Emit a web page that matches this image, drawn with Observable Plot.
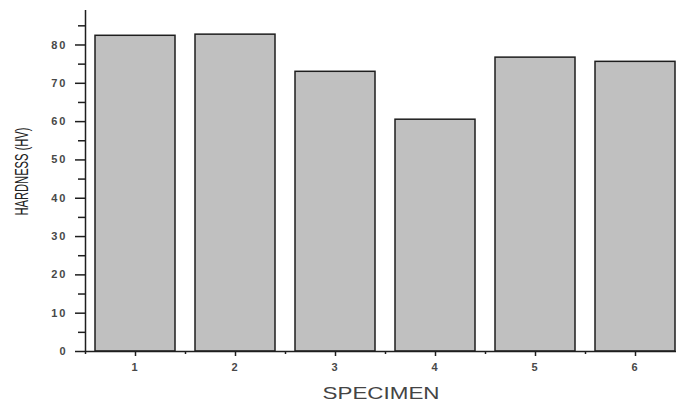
<!DOCTYPE html>
<html>
<head>
<meta charset="utf-8">
<script src="https://cdn.jsdelivr.net/npm/d3@7"></script>
<script src="https://cdn.jsdelivr.net/npm/@observablehq/plot@0.6"></script>
<style>
  html, body { margin: 0; padding: 0; background: #fff; overflow: hidden; }
  #chart svg { overflow: visible; }
</style>
</head>
<body>
<div id="chart"></div>
<script>
const specimens = [1, 2, 3, 4, 5, 6];
const hardness = [82.4, 82.7, 73.0, 60.5, 76.7, 75.6];
const yTicks = [0, 10, 20, 30, 40, 50, 60, 70, 80];
const yMinorTicks = [5, 15, 25, 35, 45, 55, 65, 75, 85];
const xMinorTicks = [0.5, 1.5, 2.5, 3.5, 4.5, 5.5, 6.5];
const xDomain = [0.5, 6.5];
const yDomain = [0, 89];
const xTitle = "SPECIMEN";
const yTitle = "HARDNESS (HV)";

const data = specimens.map((s, i) => ({specimen: s, hardness: hardness[i]}));

const tickFont = {fontSize: 11, fontWeight: "bold", fill: "#484848"};

const chart = Plot.plot({
  width: 676,
  height: 405,
  marginTop: 10,
  marginBottom: 54,
  marginLeft: 85,
  marginRight: 0,
  style: {fontFamily: "'Liberation Sans', Arial, sans-serif", background: "#fff"},
  x: {domain: xDomain, range: [85, 685]},
  y: {domain: yDomain},
  marks: [
    Plot.rectY(data, {
      x1: d => d.specimen - 0.4,
      x2: d => d.specimen + 0.4,
      y: "hardness",
      fill: "#c0c0c0",
      stroke: "#1e1e1e",
      strokeWidth: 1.5
    }),
    Plot.ruleY([yDomain[0]], {stroke: "#1e1e1e", strokeWidth: 1.5}),
    Plot.ruleX([xDomain[0]], {y1: yDomain[0], y2: yDomain[1], stroke: "#1e1e1e", strokeWidth: 1.5}),
    Plot.axisY({ticks: yTicks, tickSize: 10, tickPadding: 8, tickFormat: d3.format("d"), label: null, stroke: "#1e1e1e", strokeWidth: 1.5, ...tickFont}),
    Plot.axisY({ticks: yMinorTicks, tickSize: 7, tickFormat: () => "", label: null, stroke: "#1e1e1e", strokeWidth: 1.5}),
    Plot.axisX({ticks: specimens, tickSize: 5, tickPadding: 7, tickFormat: d3.format("d"), label: null, stroke: "#1e1e1e", strokeWidth: 1.5, ...tickFont}),
    Plot.axisX({ticks: xMinorTicks, tickSize: 3, tickFormat: () => "", label: null, stroke: "#1e1e1e", strokeWidth: 1.5})
  ]
});

document.getElementById("chart").appendChild(chart);

const svg = d3.select(chart);
svg.selectAll("g[aria-label='y-axis tick label'] text, g[aria-label='x-axis tick label'] text")
  .style("letter-spacing", "2px");

const titles = svg.append("g").attr("font-family", "'Liberation Sans', Arial, sans-serif");
titles.append("text")
  .text(yTitle)
  .attr("transform", "translate(21.5,171.5) rotate(-90)")
  .attr("dy", "0.35em")
  .attr("text-anchor", "middle")
  .attr("textLength", 88).attr("lengthAdjust", "spacingAndGlyphs")
  .attr("font-size", 19).attr("fill", "#222");
titles.append("text")
  .text(xTitle)
  .attr("transform", "translate(381,393)")
  .attr("dy", "0.35em")
  .attr("text-anchor", "middle")
  .attr("textLength", 117).attr("lengthAdjust", "spacingAndGlyphs")
  .attr("font-size", 17).attr("fill", "#444");
</script>
</body>
</html>
